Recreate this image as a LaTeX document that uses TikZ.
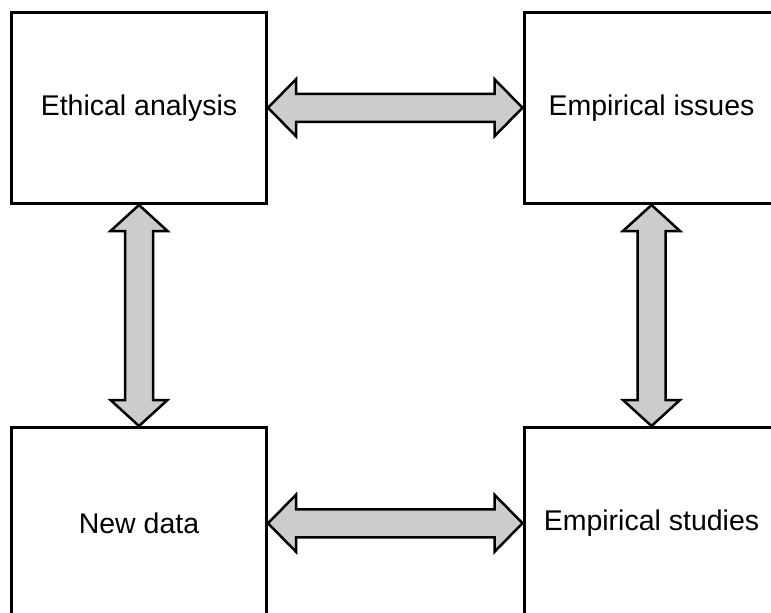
\documentclass[tikz,border=0pt]{standalone}
\usepackage{fontspec}
\setmainfont{Liberation Sans}
\usetikzlibrary{calc}
\tikzset{
  box/.style={draw, line width=3pt, minimum width=255pt, minimum height=191.5pt,
    inner sep=0pt, font=\fontsize{28.5}{34}\selectfont},
  link/.style={draw, fill=black!20, line width=2.5pt, line join=miter},
}
% two-way block arrow from #1 to #2; the pair of points must be axis-aligned
\newcommand\hlink[2]{%
  \path[link] (#1) -- ($(#1)+(28,-28.5)$) -- ($(#1)+(28,-14)$) -- ($(#2)+(-28,-14)$)
    -- ($(#2)+(-28,-28.5)$) -- (#2) -- ($(#2)+(-28,28.5)$) -- ($(#2)+(-28,14)$)
    -- ($(#1)+(28,14)$) -- ($(#1)+(28,28.5)$) -- cycle;}
\newcommand\vlink[2]{%
  \path[link] (#1) -- ($(#1)+(-28.5,26)$) -- ($(#1)+(-14,26)$) -- ($(#2)+(-14,-26)$)
    -- ($(#2)+(-28.5,-26)$) -- (#2) -- ($(#2)+(28.5,-26)$) -- ($(#2)+(14,-26)$)
    -- ($(#1)+(14,26)$) -- ($(#1)+(28.5,26)$) -- cycle;}
\begin{document}
\begin{tikzpicture}[x=1pt, y=-1pt]
  \useasboundingbox (0,0) rectangle (771,613);
  \node[box] (ethics)  at (139,107.75)   {Ethical analysis};
  \node[box] (issues)  at (651.5,107.75) {Empirical issues};
  \node[box] (newdata) at (139,523.25)   {New data};
  \node[box] (studies) at (651.5,523.25) {Empirical studies};
  % two-way links between neighbouring boxes
  \hlink{ethics.east}{issues.west}
  \hlink{newdata.east}{studies.west}
  \vlink{ethics.south}{newdata.north}
  \vlink{issues.south}{studies.north}
\end{tikzpicture}
\end{document}
